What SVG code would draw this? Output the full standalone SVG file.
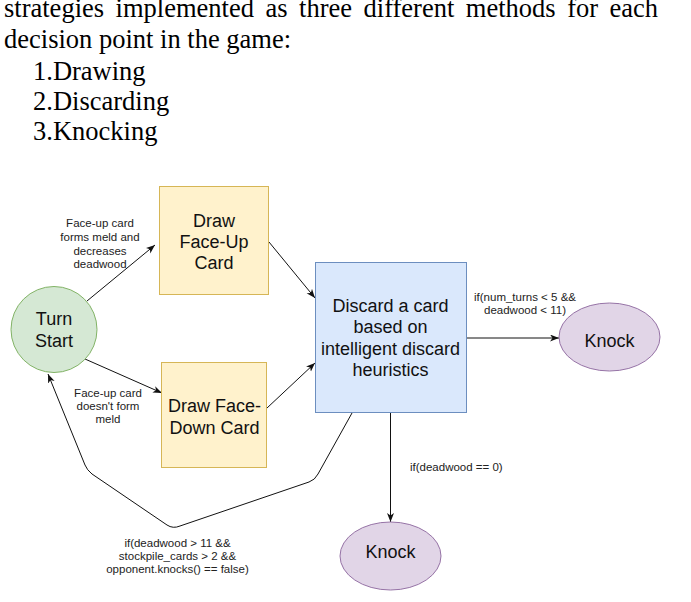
<svg xmlns="http://www.w3.org/2000/svg" width="691" height="602" viewBox="0 0 691 602">
<style>
.para{font-family:"Liberation Serif","Times New Roman",serif;font-size:26.5px;fill:#000}
.node{font-family:"Liberation Sans",Arial,sans-serif;font-size:18px;fill:#111;text-anchor:middle}
.lbl{font-family:"Liberation Sans",Arial,sans-serif;font-size:11.5px;fill:#222}
.c{text-anchor:middle}
.edge{fill:none;stroke:#111;stroke-width:1}
</style>
<defs>
<marker id="arr" markerUnits="userSpaceOnUse" markerWidth="12" markerHeight="10" refX="9" refY="3.5" orient="auto">
<path d="M0,0 L9,3.5 L0,7 L2.5,3.5 Z" fill="#111"/>
</marker>
</defs>
<rect width="691" height="602" fill="#fff"/>
<g id="paragraph">
<text class="para" x="4" y="17" word-spacing="4.9">strategies implemented as three different methods for each</text>
<text class="para" x="4" y="48">decision point in the game:</text>
<text class="para" x="33" y="80">1.Drawing</text>
<text class="para" x="33" y="110">2.Discarding</text>
<text class="para" x="33" y="140">3.Knocking</text>
</g>
<g id="connectors">
<line class="edge" x1="87" y1="301" x2="155" y2="245" marker-end="url(#arr)"/>
<line class="edge" x1="85" y1="359" x2="162" y2="393" marker-end="url(#arr)"/>
<line class="edge" x1="269" y1="242" x2="315" y2="298" marker-end="url(#arr)"/>
<line class="edge" x1="267" y1="408" x2="315" y2="363" marker-end="url(#arr)"/>
<line class="edge" x1="467" y1="338" x2="559" y2="338" marker-end="url(#arr)"/>
<line class="edge" x1="390.5" y1="413" x2="390.5" y2="522" marker-end="url(#arr)"/>
<path class="edge" d="M352,413 L318,474 Q315,480 309,482 L180,526 Q173,529 167,525 L92,474 Q87,470 85,465 L48,374" marker-end="url(#arr)"/>
<text class="lbl c" x="100" y="227">Face-up card</text>
<text class="lbl c" x="100" y="241">forms meld and</text>
<text class="lbl c" x="100" y="255">decreases</text>
<text class="lbl c" x="100" y="268">deadwood</text>
<text class="lbl c" x="108" y="397">Face-up card</text>
<text class="lbl c" x="108" y="410">doesn't form</text>
<text class="lbl c" x="108" y="423">meld</text>
<text class="lbl c" x="525" y="301">if(num_turns &lt; 5 &amp;&amp;</text>
<text class="lbl c" x="525" y="314">deadwood &lt; 11)</text>
<text class="lbl" x="410" y="471">if(deadwood == 0)</text>
<text class="lbl c" x="177.5" y="546.5">if(deadwood &gt; 11 &amp;&amp;</text>
<text class="lbl c" x="177.5" y="559.5">stockpile_cards &gt; 2 &amp;&amp;</text>
<text class="lbl c" x="177.5" y="573">opponent.knocks() == false)</text>
</g>
<g id="turn-start">
<circle cx="54" cy="329.5" r="43" fill="#d5e8d4" stroke="#82b366"/>
<text class="node" x="54" y="325">Turn</text>
<text class="node" x="54" y="346.5">Start</text>
</g>
<g id="draw-face-up">
<rect x="159.5" y="186.5" width="109" height="108" fill="#fff2cc" stroke="#d6b656"/>
<text class="node" x="214" y="226.5">Draw</text>
<text class="node" x="214" y="247.5">Face-Up</text>
<text class="node" x="214" y="268.5">Card</text>
</g>
<g id="draw-face-down">
<rect x="161.5" y="362.5" width="105" height="105" fill="#fff2cc" stroke="#d6b656"/>
<text class="node" x="214.5" y="412">Draw Face-</text>
<text class="node" x="214.5" y="433.5">Down Card</text>
</g>
<g id="discard">
<rect x="315.5" y="262.5" width="151" height="150" fill="#dae8fc" stroke="#6c8ebf"/>
<text class="node" x="390.5" y="311.5">Discard a card</text>
<text class="node" x="390.5" y="333">based on</text>
<text class="node" x="390.5" y="354.5">intelligent discard</text>
<text class="node" x="390.5" y="376">heuristics</text>
</g>
<g id="knock-right">
<ellipse cx="609.5" cy="337" rx="50.5" ry="34" fill="#e1d5e7" stroke="#9673a6"/>
<text class="node" x="609.5" y="346.5">Knock</text>
</g>
<g id="knock-bottom">
<ellipse cx="390.5" cy="556" rx="50.5" ry="34" fill="#e1d5e7" stroke="#9673a6"/>
<text class="node" x="390.5" y="558">Knock</text>
</g>
</svg>
